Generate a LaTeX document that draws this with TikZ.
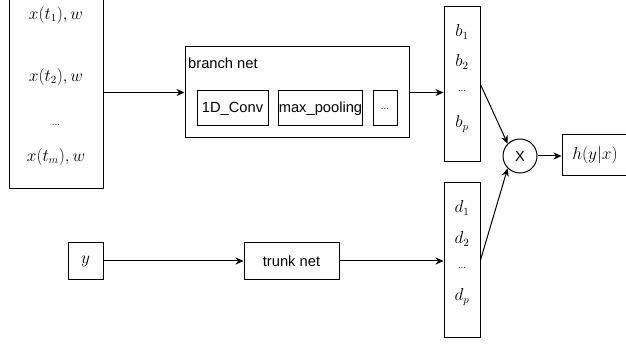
\documentclass[tikz,border=0pt]{standalone}
\usepackage{fontspec}
\setsansfont{Liberation Sans}
\usetikzlibrary{arrows.meta}
\tikzset{
  box/.style={draw, line width=1pt, inner sep=0pt, rectangle},
  lbl/.style={font=\sffamily\fontsize{14.7}{16}\selectfont, inner sep=0pt},
  mth/.style={font=\fontsize{16}{18}\selectfont, inner sep=0pt},
  dots/.style={font=\fontsize{10}{12}\selectfont, inner sep=0pt},
  arr/.style={line width=1pt, -{Stealth[length=8pt,width=7pt]}}
}
\begin{document}
\begin{tikzpicture}[x=1pt,y=-1pt]
\useasboundingbox (0,0) rectangle (626,347);
\clip (0,0) rectangle (626,347);
\fill[white] (0,0) rectangle (626,347);

% input samples of the function
\node[box, minimum width=94pt, minimum height=200pt] (xbox) at (56,89) {};
\node[mth] (x1) at (56,15) {$x(t_1),w$};
\node[mth] (x2) at (56,77) {$x(t_2),w$};
\node[dots] (xd) at (56,125) {...};
\node[mth] (xm) at (56,157) {$x(t_m),w$};

% branch network
\node[box, minimum width=224pt, minimum height=91pt] (branch) at (297,92.5) {};
\node[lbl, anchor=west] (blabel) at (188,63) {branch net};
\node[box, lbl, minimum width=71pt, minimum height=35pt] (conv) at (232.5,108.5) {1D\_Conv};
\node[box, lbl, minimum width=83pt, minimum height=35pt] (pool) at (320.5,108.5) {max\_pooling};
\node[box, dots, minimum width=24pt, minimum height=35pt] (more) at (385,108.5) {...};

% branch outputs
\node[box, minimum width=36pt, minimum height=155pt] (bbox) at (462,84.5) {};
\node[mth] (b1) at (462,32) {$b_1$};
\node[mth] (b2) at (462,62) {$b_2$};
\node[dots] (bd) at (462,91) {...};
\node[mth] (bp) at (462,124) {$b_p$};

% trunk network
\node[box, mth, minimum width=35pt, minimum height=36pt] (ybox) at (85.5,261) {$y$};
\node[box, lbl, minimum width=95pt, minimum height=36pt] (trunk) at (291.5,261) {trunk net};

% trunk outputs
\node[box, minimum width=36pt, minimum height=154pt] (dbox) at (462,260) {};
\node[mth] (d1) at (462,208) {$d_1$};
\node[mth] (d2) at (462,239) {$d_2$};
\node[dots] (dd) at (462,268) {...};
\node[mth] (dp) at (462,297) {$d_p$};

% product and result
\node[draw, line width=1pt, circle, minimum size=34pt, inner sep=0pt, lbl] (prod) at (520,156) {X};
\node[box, mth, minimum width=66pt, minimum height=41pt] (hbox) at (595,155.5) {$h(y|x)$};

% connectors
\draw[arr] (xbox.east |- branch.west) -- (branch.west);
\draw[arr] (branch.east) -- (bbox.west |- branch.east);
\draw[arr] (ybox.east) -- (trunk.west);
\draw[arr] (trunk.east) -- (dbox.west |- trunk.east);
\draw[arr] (bbox.east) -- (prod.north west);
\draw[arr] (dbox.east) -- (prod.south west);
\draw[arr] (prod.east) -- (hbox.west |- prod.east);
\end{tikzpicture}
\end{document}
